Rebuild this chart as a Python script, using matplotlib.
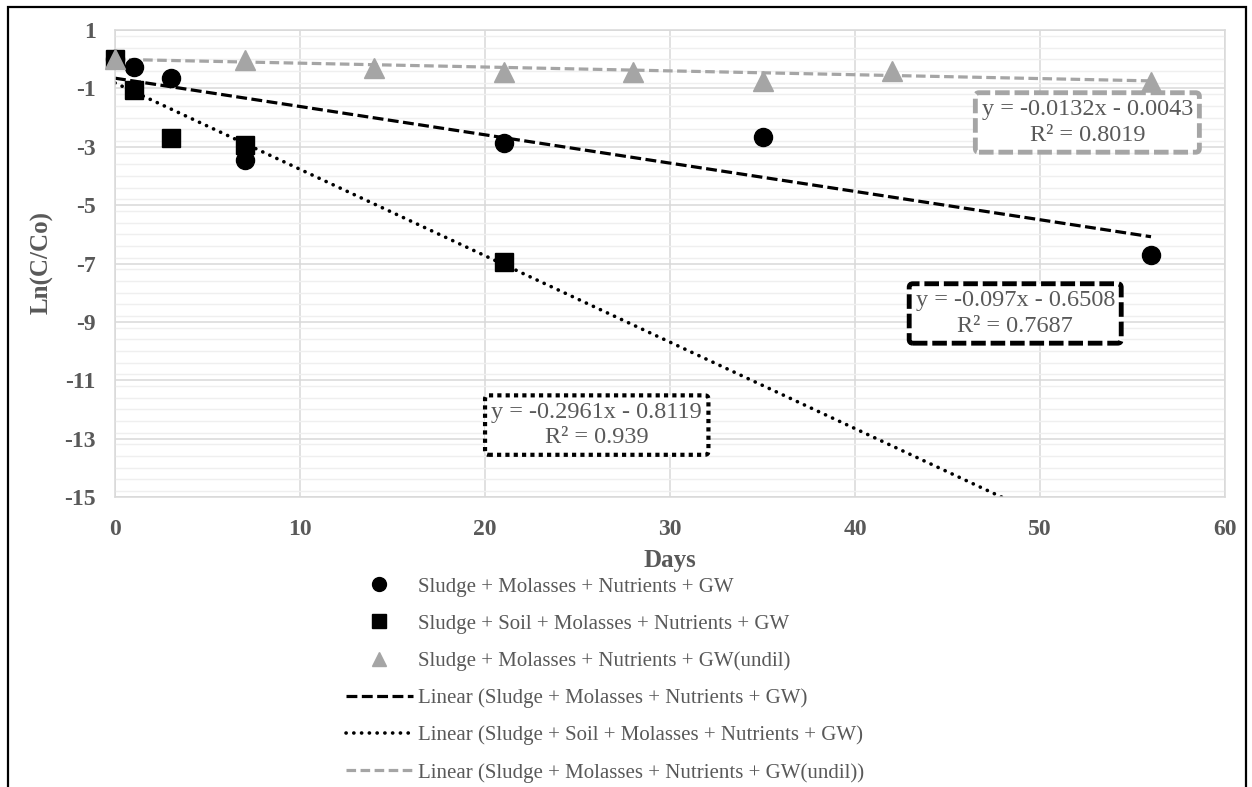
import numpy as np
import matplotlib
matplotlib.use('Agg')
import matplotlib.pyplot as plt
from matplotlib.lines import Line2D
from matplotlib.patches import Rectangle
from matplotlib.ticker import MultipleLocator

plt.rcParams['font.family'] = ['Liberation Serif', 'DejaVu Serif']
plt.rcParams['axes.unicode_minus'] = False

# Ln(C/Co) readings for each treatment
days_a = [0, 1, 3, 7, 21, 35, 56]
ln_a = [0.0, -0.27, -0.64, -3.47, -2.87, -2.66, -6.70]
days_b = [0, 1, 3, 7, 21]
ln_b = [0.0, -1.05, -2.70, -2.94, -6.95]
days_c = [0, 7, 14, 21, 28, 35, 42, 56]
ln_c = [0.0, -0.03, -0.31, -0.43, -0.43, -0.75, -0.40, -0.78]

# linear trendlines: slope, intercept, R²
fit_a = (-0.097, -0.6508, 0.7687)
fit_b = (-0.2961, -0.8119, 0.939)
fit_c = (-0.0132, -0.0043, 0.8019)

names = ['Sludge + Molasses + Nutrients + GW',
         'Sludge + Soil + Molasses + Nutrients + GW',
         'Sludge + Molasses + Nutrients + GW(undil)']

grey = '#A5A5A5'
txt = '#595959'

fig = plt.figure(figsize=(12.52, 7.87), dpi=100)
ax = fig.add_axes([115/1252, 1-497/787, 1110/1252, 467/787])

ax.set_xlim(0, 60)
ax.set_ylim(-15, 1)
ax.set_xticks(np.arange(0, 61, 10))
ax.set_yticks(np.arange(1, -16, -2))
ax.yaxis.set_minor_locator(MultipleLocator(0.4))
ax.grid(which='major', color='#D9D9D9', lw=1.1)
ax.grid(which='minor', axis='y', color='#EFEFEF', lw=1.0)
ax.set_axisbelow(True)
for s in ax.spines.values():
    s.set_color('#D9D9D9')
    s.set_linewidth(1.1)
ax.tick_params(which='both', length=0)
ax.tick_params(axis='x', pad=16, labelsize=17, labelcolor=txt)
ax.tick_params(axis='y', pad=14, labelsize=17, labelcolor=txt)
for lab in ax.get_xticklabels() + ax.get_yticklabels():
    lab.set_fontweight('bold')

# trendlines
xf = np.linspace(0, 56, 200)
ax.plot(xf, fit_a[0]*xf + fit_a[1], color='black', lw=2.3, dashes=(3.4, 1.4), zorder=2)
ax.plot(xf, fit_b[0]*xf + fit_b[1], color='black', lw=2.6, dashes=(0.05, 2.1),
        dash_capstyle='round', zorder=2)
ax.plot(xf, fit_c[0]*xf + fit_c[1], color=grey, lw=2.3, dashes=(3.0, 1.4), zorder=2)

# measured points
ax.plot(days_a, ln_a, 'o', color='black', ms=13, zorder=3, clip_on=False)
ax.plot(days_b, ln_b, 's', color='black', ms=13.5, zorder=4, clip_on=False)
ax.plot(days_c, ln_c, '^', color=grey, ms=14, zorder=5, clip_on=False)

# equation labels
def eq_label(fit):
    return 'y = {:.4g}x - {:.4g}\nR² = {:.4g}'.format(fit[0], abs(fit[1]), fit[2])

box_kw = dict(transform=ax.transAxes, ha='center', va='center', multialignment='center',
              fontsize=17.5, color=txt, zorder=6, linespacing=1.3)
ax.text(0.876, 0.802, eq_label(fit_c), **box_kw,
        bbox=dict(boxstyle='round,pad=0.26,rounding_size=0.15', fc='white', ec=grey,
                  lw=3.5, ls=(0, (3, 1))))
ax.text(0.811, 0.393, eq_label(fit_a), **box_kw,
        bbox=dict(boxstyle='round,pad=0.26,rounding_size=0.15', fc='white', ec='black',
                  lw=3.5, ls=(0, (3, 1))))
ax.text(0.434, 0.154, eq_label(fit_b), **box_kw,
        bbox=dict(boxstyle='round,pad=0.26,rounding_size=0.15', fc='white', ec='black',
                  lw=3.0, ls=(0, (1, 1))))

fig.text(670/1252, 1-560/787, 'Days', ha='center', va='center', fontsize=18,
         fontweight='bold', color=txt)
fig.text(42/1252, 1-263/787, 'Ln(C/Co)', ha='center', va='center', rotation=90,
         fontsize=18, fontweight='bold', color=txt)

handles = [
    Line2D([], [], ls='none', marker='o', color='black', ms=10),
    Line2D([], [], ls='none', marker='s', color='black', ms=10),
    Line2D([], [], ls='none', marker='^', color=grey, ms=10),
    Line2D([], [], color='black', lw=2.3, dashes=(3.4, 1.4)),
    Line2D([], [], color='black', lw=2.6, dashes=(0.05, 2.1), dash_capstyle='round'),
    Line2D([], [], color=grey, lw=2.3, dashes=(3.0, 1.4)),
]
labels = names + ['Linear (' + n + ')' for n in names]
fig.legend(handles, labels, loc='upper left', bbox_to_anchor=(346/1252, 1-577/787),
           frameon=False, fontsize=15, handlelength=3.2, handletextpad=0.25,
           labelspacing=0.84, borderpad=0, borderaxespad=0, labelcolor=txt)

# chart border
fig.patches.append(Rectangle((8/1252, -0.1), 1238/1252, 1.1 - 7/787, transform=fig.transFigure,
                             fill=False, ec='black', lw=1.6))

fig.savefig('out.png', dpi=100)
